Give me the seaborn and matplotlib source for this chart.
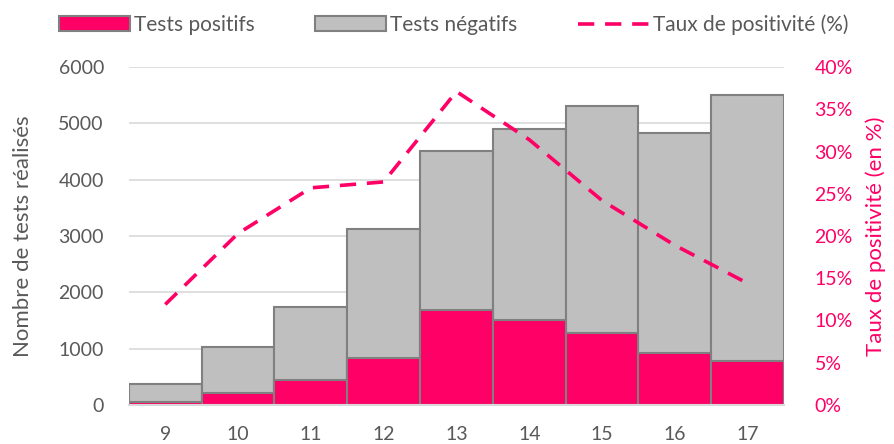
import numpy as np
import pandas as pd
import seaborn as sns
import matplotlib.pyplot as plt
from matplotlib.patches import Patch
from matplotlib.lines import Line2D
from matplotlib.ticker import PercentFormatter

# data
semaines = ["9", "10", "11", "12", "13", "14", "15", "16", "17"]
tests_positifs = [45, 210, 445, 825, 1680, 1500, 1285, 925, 785]
tests_negatifs = [325, 825, 1300, 2295, 2835, 3400, 4030, 3900, 4710]
taux_positivite = [11.9, 20.3, 25.7, 26.4, 37.1, 31.4, 24.2, 18.9, 14.4]

rose = "#FF0066"
gris = "#BFBFBF"
bord = "#808080"
texte = "#595959"

sns.set_theme(style="white")
plt.rcParams["font.family"] = ["Lato", "DejaVu Sans"]

df = pd.DataFrame({
    "semaine": semaines,
    "positifs": tests_positifs,
    "total": np.array(tests_positifs) + np.array(tests_negatifs),
    "taux": taux_positivite,
})

fig = plt.figure(figsize=(8.95, 4.44), dpi=100)
ax = fig.add_axes([0.144, 0.088, 0.732, 0.761])

# stacked bars: total in grey, positives in pink on top of it
sns.barplot(data=df, x="semaine", y="total", color=gris, width=1.0,
            edgecolor=bord, linewidth=1.5, saturation=1, ax=ax)
sns.barplot(data=df, x="semaine", y="positifs", color=rose, width=1.0,
            edgecolor=bord, linewidth=1.5, saturation=1, ax=ax)

ax.set_ylim(0, 6000)
ax.set_yticks(range(0, 6001, 1000))
ax.set_xlim(-0.5, len(semaines) - 0.5)
ax.yaxis.grid(True, color="#D9D9D9", linewidth=1.2)
ax.set_axisbelow(True)
for s in ["top", "right", "left"]:
    ax.spines[s].set_visible(False)
ax.spines["bottom"].set_color("#D9D9D9")
ax.spines["bottom"].set_linewidth(1.5)
ax.tick_params(axis="both", length=0, labelsize=14, labelcolor=texte)
ax.tick_params(axis="x", pad=15)
ax.tick_params(axis="y", pad=18)
ax.set_xlabel("")
ax.set_ylabel("Nombre de tests réalisés", fontsize=16, color=texte, labelpad=18)

ax2 = ax.twinx()
sns.lineplot(data=df, x="semaine", y="taux", color=rose, linewidth=2.6,
             dashes=False, ax=ax2)
ax2.lines[0].set_linestyle((0, (4.5, 3)))
ax2.set_ylim(0, 40)
ax2.set_yticks(range(0, 41, 5))
ax2.yaxis.set_major_formatter(PercentFormatter(decimals=0))
for s in ["top", "right", "left", "bottom"]:
    ax2.spines[s].set_visible(False)
ax2.tick_params(axis="y", length=0, labelsize=14, labelcolor=rose, pad=22)
ax2.set_ylabel("Taux de positivité (en %)", fontsize=16, color=rose, labelpad=9)

handles = [
    Patch(facecolor=rose, edgecolor=bord, linewidth=1.5),
    Patch(facecolor=gris, edgecolor=bord, linewidth=1.5),
    Line2D([0], [0], color=rose, linewidth=2.6, linestyle=(0, (4.5, 3))),
]
labels = ["Tests positifs", "Tests négatifs", "Taux de positivité (%)"]
leg = fig.legend(handles, labels, loc="upper left", bbox_to_anchor=(0.045, 1.01),
                 ncol=3, frameon=False, fontsize=15, handlelength=3.4,
                 handleheight=0.7, handletextpad=0.2, columnspacing=2.9)
for t in leg.get_texts():
    t.set_color(texte)

plt.savefig("out.png", dpi=100)
